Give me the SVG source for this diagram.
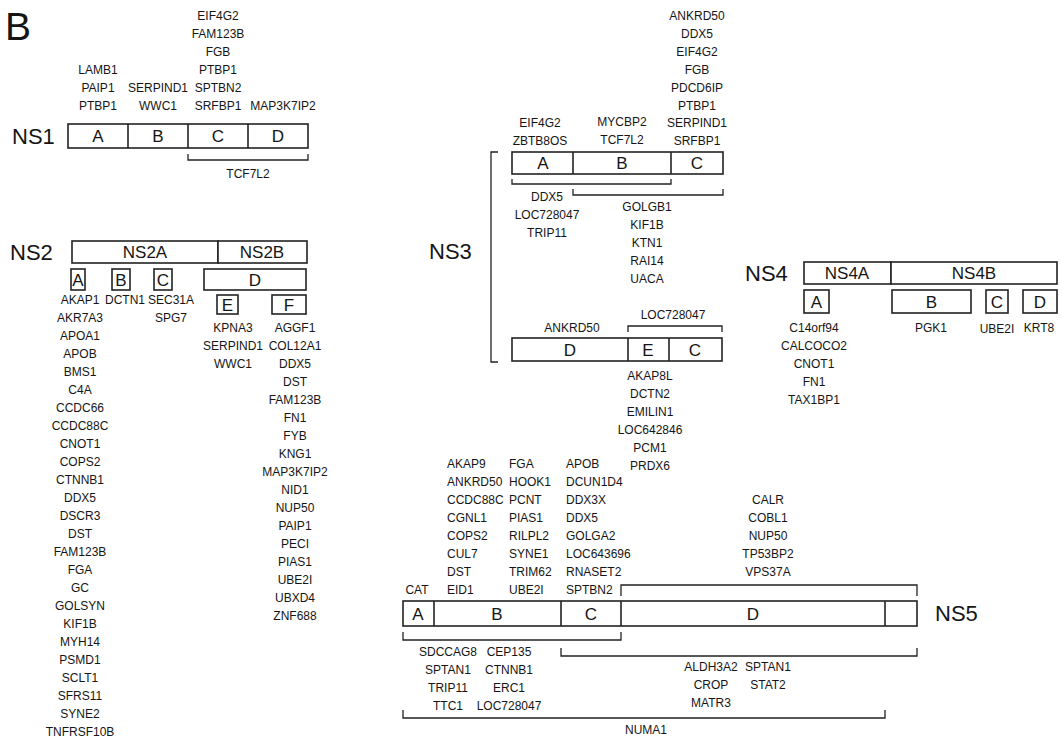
<svg xmlns="http://www.w3.org/2000/svg" width="1063" height="740" viewBox="0 0 1063 740">
<style>
text{font-family:"Liberation Sans",Arial,sans-serif;fill:#151515}
.g{font-size:12px;text-anchor:middle}
.gl{font-size:12px;text-anchor:start}
.lb{font-size:17px;text-anchor:middle}
.ns{font-size:22px}
.box{fill:#fff;stroke:#222;stroke-width:1.6}
.div{stroke:#222;stroke-width:1.6}
.br{fill:none;stroke:#222;stroke-width:1.3}
</style>
<rect width="1063" height="740" fill="#fff"/>
<text x="5" y="40" style="font-size:39px">B</text>

<!-- NS1 -->
<g id="NS1">
<text class="ns" x="12" y="144">NS1</text>
<rect class="box" x="68" y="124" width="240" height="24"/>
<line class="div" x1="128" y1="124" x2="128" y2="148"/>
<line class="div" x1="188" y1="124" x2="188" y2="148"/>
<line class="div" x1="248" y1="124" x2="248" y2="148"/>
<text class="lb" x="98" y="142">A</text>
<text class="lb" x="158" y="142">B</text>
<text class="lb" x="218" y="142">C</text>
<text class="lb" x="278" y="142">D</text>
<text class="g"><tspan x="98" y="74">LAMB1</tspan><tspan x="98" dy="18">PAIP1</tspan><tspan x="98" dy="18">PTBP1</tspan></text>
<text class="g"><tspan x="158" y="92">SERPIND1</tspan><tspan x="158" dy="18">WWC1</tspan></text>
<text class="g"><tspan x="218" y="20">EIF4G2</tspan><tspan x="218" dy="18">FAM123B</tspan><tspan x="218" dy="18">FGB</tspan><tspan x="218" dy="18">PTBP1</tspan><tspan x="218" dy="18">SPTBN2</tspan><tspan x="218" dy="18">SRFBP1</tspan></text>
<text class="g" x="283" y="110">MAP3K7IP2</text>
<text class="g" x="248" y="178">TCF7L2</text>
</g>

<!-- NS2 -->
<g id="NS2">
<text class="ns" x="10" y="260">NS2</text>
<rect class="box" x="72" y="241" width="146" height="22"/>
<rect class="box" x="218" y="241" width="89" height="22"/>
<text class="lb" x="145" y="258">NS2A</text>
<text class="lb" x="262" y="258">NS2B</text>
<rect class="box" x="71" y="269" width="14" height="21"/>
<rect class="box" x="112" y="269" width="18" height="21"/>
<rect class="box" x="154" y="269" width="18" height="21"/>
<rect class="box" x="204" y="269" width="102" height="21"/>
<text class="lb" x="78" y="285.5">A</text>
<text class="lb" x="121" y="285.5">B</text>
<text class="lb" x="163" y="285.5">C</text>
<text class="lb" x="255" y="285.5">D</text>
<rect class="box" x="217" y="295" width="21" height="19"/>
<rect class="box" x="272" y="295" width="34" height="19"/>
<text class="lb" x="227.5" y="310.5">E</text>
<text class="lb" x="289" y="310.5">F</text>
<text class="g"><tspan x="80" y="304">AKAP1</tspan><tspan x="80" dy="18">AKR7A3</tspan><tspan x="80" dy="18">APOA1</tspan><tspan x="80" dy="18">APOB</tspan><tspan x="80" dy="18">BMS1</tspan><tspan x="80" dy="18">C4A</tspan><tspan x="80" dy="18">CCDC66</tspan><tspan x="80" dy="18">CCDC88C</tspan><tspan x="80" dy="18">CNOT1</tspan><tspan x="80" dy="18">COPS2</tspan><tspan x="80" dy="18">CTNNB1</tspan><tspan x="80" dy="18">DDX5</tspan><tspan x="80" dy="18">DSCR3</tspan><tspan x="80" dy="18">DST</tspan><tspan x="80" dy="18">FAM123B</tspan><tspan x="80" dy="18">FGA</tspan><tspan x="80" dy="18">GC</tspan><tspan x="80" dy="18">GOLSYN</tspan><tspan x="80" dy="18">KIF1B</tspan><tspan x="80" dy="18">MYH14</tspan><tspan x="80" dy="18">PSMD1</tspan><tspan x="80" dy="18">SCLT1</tspan><tspan x="80" dy="18">SFRS11</tspan><tspan x="80" dy="18">SYNE2</tspan><tspan x="80" dy="18">TNFRSF10B</tspan></text>
<text class="g" x="125" y="304">DCTN1</text>
<text class="g"><tspan x="171" y="304">SEC31A</tspan><tspan x="171" dy="18">SPG7</tspan></text>
<text class="g"><tspan x="233" y="332">KPNA3</tspan><tspan x="233" dy="18">SERPIND1</tspan><tspan x="233" dy="18">WWC1</tspan></text>
<text class="g"><tspan x="295" y="332">AGGF1</tspan><tspan x="295" dy="18">COL12A1</tspan><tspan x="295" dy="18">DDX5</tspan><tspan x="295" dy="18">DST</tspan><tspan x="295" dy="18">FAM123B</tspan><tspan x="295" dy="18">FN1</tspan><tspan x="295" dy="18">FYB</tspan><tspan x="295" dy="18">KNG1</tspan><tspan x="295" dy="18">MAP3K7IP2</tspan><tspan x="295" dy="18">NID1</tspan><tspan x="295" dy="18">NUP50</tspan><tspan x="295" dy="18">PAIP1</tspan><tspan x="295" dy="18">PECI</tspan><tspan x="295" dy="18">PIAS1</tspan><tspan x="295" dy="18">UBE2I</tspan><tspan x="295" dy="18">UBXD4</tspan><tspan x="295" dy="18">ZNF688</tspan></text>
</g>

<!-- NS3 -->
<g id="NS3">
<text class="ns" x="429" y="259">NS3</text>
<rect class="box" x="512" y="152" width="211" height="22"/>
<line class="div" x1="573" y1="152" x2="573" y2="174"/>
<line class="div" x1="671" y1="152" x2="671" y2="174"/>
<text class="lb" x="543" y="169">A</text>
<text class="lb" x="622" y="169">B</text>
<text class="lb" x="697" y="169">C</text>
<text class="g"><tspan x="540" y="127">EIF4G2</tspan><tspan x="540" dy="18">ZBTB8OS</tspan></text>
<text class="g"><tspan x="622" y="126">MYCBP2</tspan><tspan x="622" dy="18">TCF7L2</tspan></text>
<text class="g"><tspan x="697" y="20">ANKRD50</tspan><tspan x="697" dy="17.9">DDX5</tspan><tspan x="697" dy="17.9">EIF4G2</tspan><tspan x="697" dy="17.9">FGB</tspan><tspan x="697" dy="17.9">PDCD6IP</tspan><tspan x="697" dy="17.9">PTBP1</tspan><tspan x="697" dy="17.9">SERPIND1</tspan><tspan x="697" dy="17.9">SRFBP1</tspan></text>
<text class="g"><tspan x="547" y="201">DDX5</tspan><tspan x="547" dy="18">LOC728047</tspan><tspan x="547" dy="18">TRIP11</tspan></text>
<text class="g"><tspan x="647" y="211">GOLGB1</tspan><tspan x="647" dy="18">KIF1B</tspan><tspan x="647" dy="18">KTN1</tspan><tspan x="647" dy="18">RAI14</tspan><tspan x="647" dy="18">UACA</tspan></text>
<rect class="box" x="512" y="338" width="210" height="23"/>
<line class="div" x1="628" y1="338" x2="628" y2="361"/>
<line class="div" x1="669" y1="338" x2="669" y2="361"/>
<text class="lb" x="570" y="355.5">D</text>
<text class="lb" x="648" y="355.5">E</text>
<text class="lb" x="695" y="355.5">C</text>
<text class="g" x="572" y="332">ANKRD50</text>
<text class="g" x="673" y="319">LOC728047</text>
<text class="g"><tspan x="650" y="380">AKAP8L</tspan><tspan x="650" dy="18">DCTN2</tspan><tspan x="650" dy="18">EMILIN1</tspan><tspan x="650" dy="18">LOC642846</tspan><tspan x="650" dy="18">PCM1</tspan><tspan x="650" dy="18">PRDX6</tspan></text>
</g>

<!-- NS4 -->
<g id="NS4">
<text class="ns" x="745" y="281">NS4</text>
<rect class="box" x="804" y="262" width="87" height="22"/>
<rect class="box" x="891" y="262" width="166" height="22"/>
<text class="lb" x="847" y="279">NS4A</text>
<text class="lb" x="974" y="279">NS4B</text>
<rect class="box" x="804" y="290" width="25" height="23"/>
<rect class="box" x="892" y="290" width="79" height="23"/>
<rect class="box" x="986" y="290" width="22" height="23"/>
<rect class="box" x="1023" y="290" width="34" height="23"/>
<text class="lb" x="816.5" y="307.5">A</text>
<text class="lb" x="931.5" y="307.5">B</text>
<text class="lb" x="997" y="307.5">C</text>
<text class="lb" x="1040" y="307.5">D</text>
<text class="g"><tspan x="814" y="332">C14orf94</tspan><tspan x="814" dy="18">CALCOCO2</tspan><tspan x="814" dy="18">CNOT1</tspan><tspan x="814" dy="18">FN1</tspan><tspan x="814" dy="18">TAX1BP1</tspan></text>
<text class="g" x="931" y="332">PGK1</text>
<text class="g" x="997" y="333">UBE2I</text>
<text class="g" x="1039" y="332">KRT8</text>
</g>

<!-- NS5 -->
<g id="NS5">
<text class="ns" x="935" y="621">NS5</text>
<rect class="box" x="403" y="601" width="514" height="25"/>
<line class="div" x1="434" y1="601" x2="434" y2="626"/>
<line class="div" x1="561" y1="601" x2="561" y2="626"/>
<line class="div" x1="621" y1="601" x2="621" y2="626"/>
<line class="div" x1="885" y1="601" x2="885" y2="626"/>
<text class="lb" x="418" y="619.5">A</text>
<text class="lb" x="497" y="619.5">B</text>
<text class="lb" x="591" y="619.5">C</text>
<text class="lb" x="753" y="619.5">D</text>
<text class="g" x="417" y="594">CAT</text>
<text class="gl"><tspan x="447" y="468">AKAP9</tspan><tspan x="447" dy="18">ANKRD50</tspan><tspan x="447" dy="18">CCDC88C</tspan><tspan x="447" dy="18">CGNL1</tspan><tspan x="447" dy="18">COPS2</tspan><tspan x="447" dy="18">CUL7</tspan><tspan x="447" dy="18">DST</tspan><tspan x="447" dy="18">EID1</tspan></text>
<text class="gl"><tspan x="509" y="468">FGA</tspan><tspan x="509" dy="18">HOOK1</tspan><tspan x="509" dy="18">PCNT</tspan><tspan x="509" dy="18">PIAS1</tspan><tspan x="509" dy="18">RILPL2</tspan><tspan x="509" dy="18">SYNE1</tspan><tspan x="509" dy="18">TRIM62</tspan><tspan x="509" dy="18">UBE2I</tspan></text>
<text class="gl"><tspan x="566" y="468">APOB</tspan><tspan x="566" dy="18">DCUN1D4</tspan><tspan x="566" dy="18">DDX3X</tspan><tspan x="566" dy="18">DDX5</tspan><tspan x="566" dy="18">GOLGA2</tspan><tspan x="566" dy="18">LOC643696</tspan><tspan x="566" dy="18">RNASET2</tspan><tspan x="566" dy="18">SPTBN2</tspan></text>
<text class="g"><tspan x="768" y="504">CALR</tspan><tspan x="768" dy="18">COBL1</tspan><tspan x="768" dy="18">NUP50</tspan><tspan x="768" dy="18">TP53BP2</tspan><tspan x="768" dy="18">VPS37A</tspan></text>
<text class="g"><tspan x="448" y="656">SDCCAG8</tspan><tspan x="448" dy="18">SPTAN1</tspan><tspan x="448" dy="18">TRIP11</tspan><tspan x="448" dy="17.5">TTC1</tspan></text>
<text class="g"><tspan x="509" y="656">CEP135</tspan><tspan x="509" dy="18">CTNNB1</tspan><tspan x="509" dy="18">ERC1</tspan><tspan x="509" dy="17.5">LOC728047</tspan></text>
<text class="g"><tspan x="711" y="671">ALDH3A2</tspan><tspan x="711" dy="18">CROP</tspan><tspan x="711" dy="18">MATR3</tspan></text>
<text class="g"><tspan x="768" y="671">SPTAN1</tspan><tspan x="768" dy="18">STAT2</tspan></text>
<text class="g" x="646" y="734">NUMA1</text>
</g>

<!-- brackets -->
<g id="connectors">
<path class="br" d="M188,154 V160 H308 V154"/>
<path class="br" d="M498,152 H491 V362 H498"/>
<path class="br" d="M512,179 V184 H671 V179"/>
<path class="br" d="M573,189 V195 H723 V189"/>
<path class="br" d="M628,332 V326 H722 V332"/>
<path class="br" d="M621,596 V585 H917 V596"/>
<path class="br" d="M403,632 V640 H621 V632"/>
<path class="br" d="M561,648 V656 H917 V648"/>
<path class="br" d="M403,710 V718 H885 V710"/>
</g>
</svg>
